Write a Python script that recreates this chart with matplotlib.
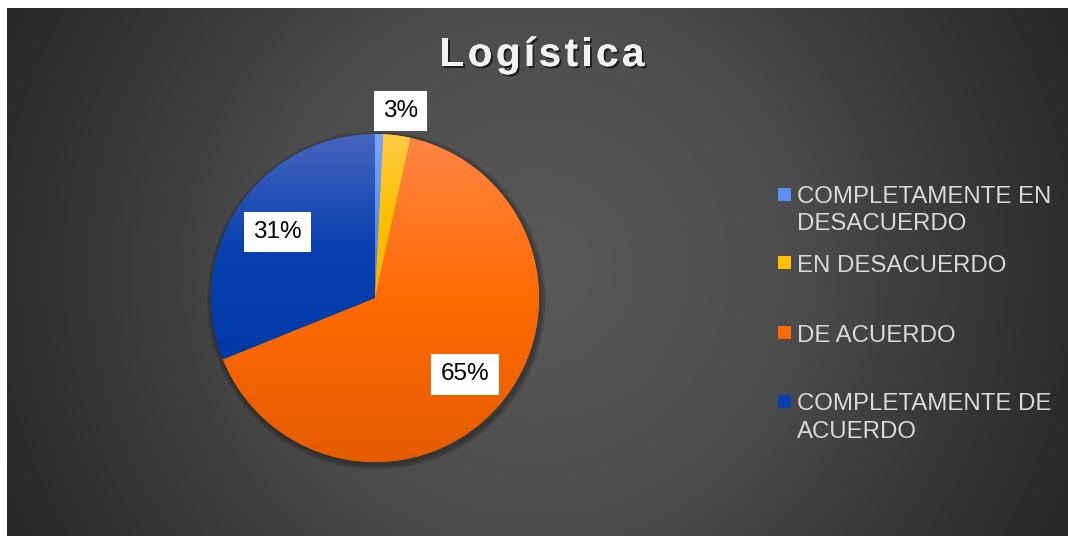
import numpy as np
import matplotlib
matplotlib.use("Agg")
import matplotlib.pyplot as plt
import matplotlib.patheffects as pe
from matplotlib.colors import LinearSegmentedColormap

plt.rcParams['font.family'] = ['Liberation Sans', 'DejaVu Sans']

# datos
titulo = "Logística"
categorias = ["COMPLETAMENTE EN\nDESACUERDO", "EN DESACUERDO", "DE ACUERDO",
              "COMPLETAMENTE DE\nACUERDO"]
valores = [0.8, 2.7, 65.4, 31.1]
# colores (arriba, centro, abajo) para el degradado
colores = [("#79a6fb", "#5b8ff5", "#3f7ef0"),
           ("#ffcb45", "#ffc000", "#f0b400"),
           ("#ff8444", "#ff6a00", "#e45c00"),
           ("#4766bf", "#0a41b0", "#003aa8")]

W, H = 1068, 536
fig = plt.figure(figsize=(W / 100, H / 100), dpi=100)
fig.patch.set_facecolor("white")

# fondo con degradado radial
bg = fig.add_axes([7 / W, 0, 1 - 7 / W, 1 - 8 / H])
bg.set_axis_off()
ny, nx = 264, 530
yy, xx = np.mgrid[0:ny, 0:nx].astype(float)
xx = xx * 2 + 7
yy = yy * 2 + 8
d = np.sqrt((xx - 534) ** 2 + (yy - 268) ** 2) / np.hypot(534, 268)
d = np.clip(d, 0, 1)
bg_cmap = LinearSegmentedColormap.from_list(
    "bg", [(0, "#5a5a5a"), (0.45, "#4c4c4c"), (0.6, "#404040"), (0.9, "#2d2d2d"), (1, "#282828")])
bg.imshow(d, cmap=bg_cmap, aspect="auto", extent=[0, 1, 0, 1], vmin=0, vmax=1,
          origin="upper", interpolation="bilinear")
bg.set_xlim(0, 1)
bg.set_ylim(0, 1)

# pastel
cx, cy, r = 375, H - 298, 164
ax = fig.add_axes([(cx - r) / W, (cy - r) / H, 2 * r / W, 2 * r / H])
ax.set_axis_off()

# sombra suave
for k in range(6):
    sh = plt.Circle((0.01, -0.015), 1.0 + 0.006 * k, color="black", alpha=0.05,
                    zorder=0, clip_on=False)
    ax.add_patch(sh)

wedges, texts, autotexts = ax.pie(
    valores, colors=[c[1] for c in colores], startangle=90, counterclock=False,
    radius=1.0, autopct=lambda p: f"{p:.0f}%" if p >= 2 else "", pctdistance=0.72,
    wedgeprops=dict(linewidth=0), textprops=dict(fontsize=17.5, color="black"))
ax.set_xlim(-1, 1)
ax.set_ylim(-1, 1)

grad = np.linspace(0, 1, 256).reshape(-1, 1)
for w, c in zip(wedges, colores):
    verts = w.get_path().transformed(w.get_patch_transform()).vertices
    x0, x1 = verts[:, 0].min(), verts[:, 0].max()
    y0, y1 = verts[:, 1].min(), verts[:, 1].max()
    cm = LinearSegmentedColormap.from_list("g", [c[2], c[1], c[0]])
    im = ax.imshow(grad, cmap=cm, extent=[x0, x1, y0, y1], origin="lower",
                   aspect="auto", zorder=w.get_zorder() + 0.1)
    im.set_clip_path(w)
ax.set_xlim(-1, 1)
ax.set_ylim(-1, 1)

for t in autotexts:
    t.set_zorder(10)
    t.set_bbox(dict(boxstyle="square,pad=0.38", fc="white", ec="none"))
# etiqueta del sector pequeño fuera del pastel
w = wedges[1]
ang = np.deg2rad((w.theta1 + w.theta2) / 2)
autotexts[1].set_position((1.15 * np.cos(ang), 1.15 * np.sin(ang)))

# leyenda
y_row = [194, 262.5, 332.5, 401.5]
for cat, c, yc in zip(categorias, colores, y_row):
    fig.patches.append(plt.Rectangle((778 / W, (H - yc - 6.5) / H), 13 / W, 13 / H,
                                     transform=fig.transFigure, fc=c[1], ec="none"))
    for i, line in enumerate(cat.split("\n")):
        fig.text(797 / W, (H - (yc + 9) - 27 * i) / H, line, fontsize=17.3,
                 color="#d9d9d9", va="baseline", ha="left")

# título con espaciado entre letras
renderer = fig.canvas.get_renderer()
shadow = [pe.withSimplePatchShadow(offset=(1.5, -1.5), shadow_rgbFace="black", alpha=0.6),
          pe.Normal()]
chars = []
widths = []
for ch in titulo:
    t = fig.text(0, 0, ch, fontsize=29, fontweight="bold", color="#f2f2f2",
                 va="baseline", ha="left")
    bb = t.get_window_extent(renderer)
    chars.append(t)
    widths.append(bb.width)
spacing = 3.5
total = sum(widths) + spacing * (len(titulo) - 1)
x = 542 - total / 2
for t, wd in zip(chars, widths):
    t.set_position((x / W, (H - 66) / H))
    t.set_path_effects(shadow)
    x += wd + spacing

fig.savefig("out.png", dpi=100, facecolor=fig.get_facecolor())
